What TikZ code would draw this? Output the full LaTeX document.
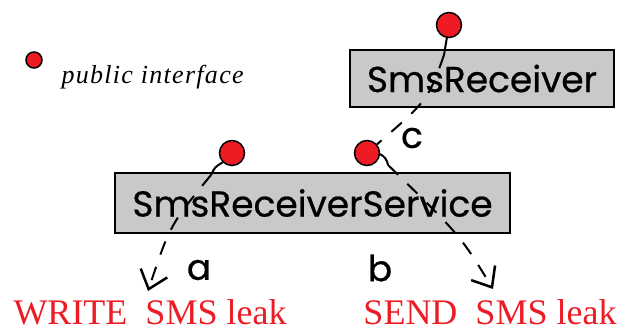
\documentclass[tikz,border=0pt]{standalone}
\usepackage{fontspec}
\setmainfont{Liberation Serif}
\newfontfamily\comicfont[FakeBold=0.6]{Poppins}
\usetikzlibrary{arrows.meta}
\definecolor{ifred}{HTML}{ED1C24}
\definecolor{boxgray}{HTML}{C8C9CB}
\tikzset{
  comp/.style={draw, line width=1.5pt, fill=boxgray, inner sep=0pt,
    font=\comicfont\fontsize{36}{40}\selectfont},
  iface/.style={circle, draw, line width=1.5pt, fill=ifred,
    minimum size=#1, inner sep=0pt},
  iface/.default=25pt,
  stem/.style={line width=2pt},
  flow/.style={line width=2pt, dash pattern=on 14pt off 13pt},
  leak/.style={text=ifred, anchor=base, inner sep=0pt, font=\fontsize{36}{40}\selectfont},
  lbl/.style={font=\comicfont\fontsize{36}{40}\selectfont}
}

\begin{document}
\begin{tikzpicture}[x=1pt,y=-1pt]
  \useasboundingbox (0,0) rectangle (626,331);

  % legend
  \node[iface=16pt] (legdot) at (34,60) {};
  \node[anchor=west, font=\itshape\fontsize{26}{30}\selectfont\addfontfeatures{LetterSpace=5}] (legtxt) at (58,77) {public interface};

  % components
  \node[comp, minimum width=264pt, minimum height=57pt] (recv) at (482,78.5) {SmsReceiver};
  \node[comp, minimum width=395pt, minimum height=60pt] (serv) at (312.5,203) {SmsReceiverService};

  % interfaces
  \node[iface] (pubR) at (449,25) {};
  \node[iface] (pubS1) at (232,153) {};
  \node[iface] (pubS2) at (367,153) {};

  \coordinate (cR) at (444,55);
  \coordinate (sL) at (211,175);
  \coordinate (sR) at (388,165);

  % leaks
  \node[leak] (write) at (150,324) {WRITE\ \ SMS leak};
  \node[leak] (send) at (490,324) {SEND\ \ SMS leak};
  \coordinate (wtip) at (148,291);
  \coordinate (stip) at (493,289);

  % connectors
  \draw[stem] (pubS1.225) .. controls (215,167) .. (sL);
  \draw[stem] (pubR) -- (cR);
  \draw[flow] (cR) .. controls (428,100) .. (pubS2);
  \draw[flow, -{Straight Barb[length=17pt,width=28pt,line width=2.5pt]}] (sL) .. controls (170,225) .. (wtip);
  \draw[stem] (pubS2) to[bend left=25] (sR);
  \draw[flow, -{Straight Barb[length=17pt,width=28pt,line width=2.5pt]}] (sR) .. controls (460,235) .. (stip);

  % labels
  \node[lbl] (lc) at (412,138) {c};
  \node[lbl] (la) at (199,270) {a};
  \node[lbl] (lb) at (380,268) {b};
\end{tikzpicture}
\end{document}
